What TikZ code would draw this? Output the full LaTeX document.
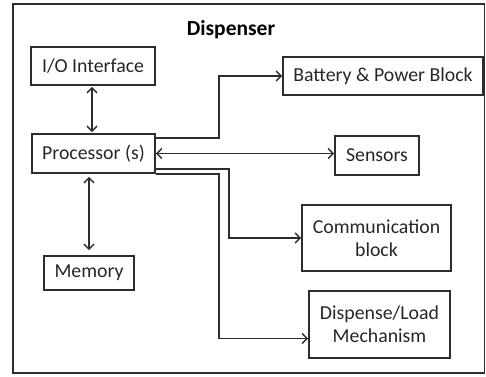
\documentclass[tikz,border=0pt]{standalone}
\usepackage{fontspec}
\setmainfont{Carlito}
\usepackage{tikz}
\usetikzlibrary{arrows.meta}
\definecolor{linha}{RGB}{45,45,45}
\tikzstyle{bloco}=[draw=linha,line width=1.6pt,inner sep=0pt,align=center,text=black!85,font=\fontsize{19.8pt}{23pt}\selectfont]
\tikzstyle{seta}=[draw=linha,line width=1.6pt,-{Straight Barb[length=5pt,width=10pt,line width=1.5pt]}]
\tikzstyle{setadupla}=[draw=linha,line width=1.6pt,{Straight Barb[length=5pt,width=10pt,line width=1.5pt]}-{Straight Barb[length=5pt,width=10pt,line width=1.5pt]}]

\begin{document}
\begin{tikzpicture}[x=1pt,y=-1pt]
    \useasboundingbox (0,0) rectangle (486,376);
    \draw [linha,line width=1.6pt] (13,4) rectangle (484.5,373);
    \node [font=\bfseries\fontsize{21.5pt}{24pt}\selectfont] (titulo) at (231,30) {Dispenser};
    \node [bloco,minimum width=124pt,minimum height=38pt] (io) at (93,66) {I/O Interface};
    \node [bloco,minimum width=123pt,minimum height=39pt] (proc) at (93.5,153.5) {Processor (s)};
    \node [bloco,minimum width=90pt,minimum height=34pt] (mem) at (89,273) {Memory};
    \node [bloco,minimum width=200pt,minimum height=38pt] (bat) at (383,76) {Battery \& Power Block};
    \node [bloco,minimum width=84pt,minimum height=39pt] (sens) at (377,155.5) {Sensors};
    \node [bloco,minimum width=149pt,minimum height=66pt] (com) at (376.5,238) {Communication\\block};
    \node [bloco,minimum width=141pt,minimum height=67pt] (disp) at (379.5,324.5) {Dispense/Load\\Mechanism};
    \coordinate (c1) at (219,76);
    \coordinate (c2) at (229,238);
    \coordinate (c3) at (219,338.5);
    % ligacoes
    \draw [setadupla,shorten <=1pt,shorten >=1pt] (io.south -| 92,0) -- (proc.north -| 92,0);
    \draw [setadupla,shorten <=3pt,shorten >=5pt] (proc.south -| mem.north) -- (mem.north);
    \draw [seta] ([yshift=-5pt]proc.north east) -| (c1) -- (bat.west);
    \draw [setadupla] (proc.east) -- (proc.east -| sens.west);
    \draw [seta] ([yshift=5pt]proc.south east) -| (c2) -- (com.west);
    \draw [seta] (proc.south east) -| (c3) -- (c3 -| disp.west);
\end{tikzpicture}
\end{document}
